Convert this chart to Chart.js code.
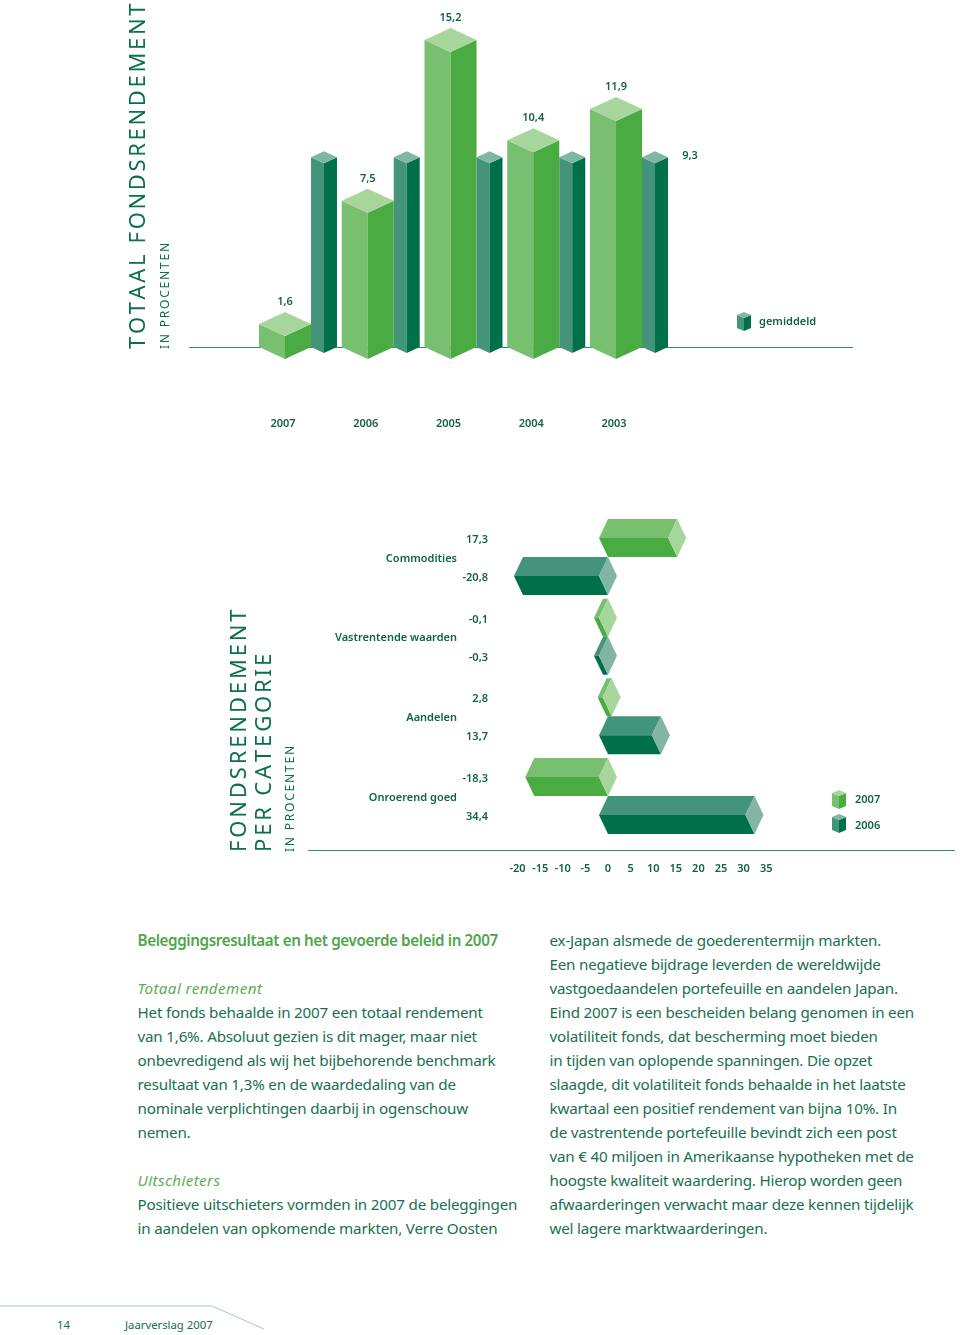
<!DOCTYPE html>
<html lang="nl">
<head>
<meta charset="utf-8">
<title>Jaarverslag 2007</title>
<script src="https://cdn.jsdelivr.net/npm/chart.js@4"></script>
<style>
  html, body { margin: 0; background: #fff; }
  #page { position: relative; width: 960px; height: 1335px; overflow: hidden; font-family: "Noto Sans", sans-serif; color: #17704f; }
  canvas { position: absolute; left: 0; }
  .rule { position: absolute; height: 1px; background: #2f8a70; }
  .side { position: absolute; white-space: nowrap; line-height: 1; transform: rotate(-90deg); transform-origin: 0 0; color: #0b6e4d; font-kerning: none; }
  .big { font-size: 22px; letter-spacing: 2.85px; }
  .small { font-size: 12px; letter-spacing: 1.8px; }
  .col { position: absolute; top: 928px; font-size: 15.2px; letter-spacing: -0.2px; line-height: 24px; white-space: pre; }
  .col b { color: #4ea64b; font-weight: 600; letter-spacing: -0.38px; }
  .col i { color: #5cad55; letter-spacing: 0.4px; }
  .foot { position: absolute; top: 1318px; font-size: 11.3px; line-height: 14px; color: #1b6b50; }
  svg { position: absolute; left: 0; top: 1300px; }
</style>
</head>
<body>
<div id="page">
  <div class="rule" style="left:189px;top:347px;width:664px"></div>
  <div class="rule" style="left:308px;top:850px;width:647px"></div>

  <canvas id="totalChart" width="960" height="440" style="top:0"></canvas>
  <canvas id="categoryChart" width="960" height="390" style="top:500px"></canvas>

  <div class="side big" style="left:125px;top:349px;letter-spacing:2.65px">TOTAAL FONDSRENDEMENT</div>
  <div class="side small" style="left:159px;top:349px">IN PROCENTEN</div>
  <div class="side big" style="left:226px;top:852px">FONDSRENDEMENT</div>
  <div class="side big" style="left:251px;top:852px">PER CATEGORIE</div>
  <div class="side small" style="left:284px;top:852px">IN PROCENTEN</div>

  <div class="col" style="left:137.5px"><b>Beleggingsresultaat en het gevoerde beleid in 2007</b>

<i>Totaal rendement</i>
Het fonds behaalde in 2007 een totaal rendement
van 1,6%. Absoluut gezien is dit mager, maar niet
onbevredigend als wij het bijbehorende benchmark
resultaat van 1,3% en de waardedaling van de
nominale verplichtingen daarbij in ogenschouw
nemen.

<i>Uitschieters</i>
Positieve uitschieters vormden in 2007 de beleggingen
in aandelen van opkomende markten, Verre Oosten</div>

  <div class="col" style="left:549.5px">ex-Japan alsmede de goederentermijn markten.
Een negatieve bijdrage leverden de wereldwijde
vastgoedaandelen portefeuille en aandelen Japan.
Eind 2007 is een bescheiden belang genomen in een
volatiliteit fonds, dat bescherming moet bieden
in tijden van oplopende spanningen. Die opzet
slaagde, dit volatiliteit fonds behaalde in het laatste
kwartaal een positief rendement van bijna 10%. In
de vastrentende portefeuille bevindt zich een post
van € 40 miljoen in Amerikaanse hypotheken met de
hoogste kwaliteit waardering. Hierop worden geen
afwaarderingen verwacht maar deze kennen tijdelijk
wel lagere marktwaarderingen.</div>

  <svg width="300" height="35"><polyline points="0,6 212,6 264,29" fill="none" stroke="#a9cdb0" stroke-width="1"/></svg>
  <div class="foot" style="left:57px">14</div>
  <div class="foot" style="left:125px">Jaarverslag 2007</div>
</div>

<script>
const years = ['2007', '2006', '2005', '2004', '2003'];
const totalReturn = [1.6, 7.5, 15.2, 10.4, 11.9];
const average = [9.3, 9.3, 9.3, 9.3, 9.3];

const categories = ['Commodities', 'Vastrentende waarden', 'Aandelen', 'Onroerend goed'];
const return2007 = [17.3, -0.1, 2.8, -18.3];
const return2006 = [-20.8, -0.3, 13.7, 34.4];
const valueTicks = [-20, -15, -10, -5, 0, 5, 10, 15, 20, 25, 30, 35];

const LIGHT = { a: '#78bf70', b: '#4aab43', cap: '#a7d69d' };
const DARK = { a: '#43947a', b: '#00704a', cap: '#82b6a4' };
const LABEL_SIZE = 11;
const LABEL_FONT = '600 11px "Noto Sans", sans-serif';
const TEXT_COLOR = '#14614a';

Chart.defaults.font.family = '"Noto Sans", sans-serif';
Chart.defaults.animation = false;
Chart.defaults.plugins.legend.display = false;
Chart.defaults.plugins.tooltip.enabled = false;

const comma = v => v.toFixed(1).replace('.', ',');

function poly(ctx, color, pts) {
    ctx.fillStyle = color;
    ctx.beginPath();
    pts.forEach((p, i) => i ? ctx.lineTo(p[0], p[1]) : ctx.moveTo(p[0], p[1]));
    ctx.closePath();
    ctx.fill();
}

// upright block: x is the front edge, top and bottom are the centre of the top and foot
function block(ctx, c, x, top, bottom, w, d) {
    poly(ctx, c.a, [[x - w, top], [x, top + d], [x, bottom + d], [x - w, bottom]]);
    poly(ctx, c.b, [[x + w, top], [x, top + d], [x, bottom + d], [x + w, bottom]]);
    poly(ctx, c.cap, [[x - w, top], [x, top - d], [x + w, top], [x, top + d]]);
}

function label(ctx, text, x, y, align) {
    ctx.font = LABEL_FONT;
    ctx.fillStyle = TEXT_COLOR;
    ctx.textAlign = align || 'center';
    ctx.textBaseline = 'middle';
    ctx.fillText(text, x, y + 1);
}

const upright = {
    id: 'upright',
    afterDatasetsDraw(chart) {
        const ctx = chart.ctx;
        const bottom = chart.scales.y.bottom;
        // dark columns go first, the wide light ones sit in front
        chart.getDatasetMeta(1).data.forEach(el => {
            block(ctx, DARK, el.x + 41, el.y - 6, bottom, 13, 6);
        });
        chart.getDatasetMeta(0).data.forEach((el, i) => {
            block(ctx, LIGHT, el.x + 2, el.y, bottom, 26, 12);
            label(ctx, comma(totalReturn[i]), el.x + 2, el.y - 23);
        });
        const last = chart.getDatasetMeta(1).data[years.length - 1];
        label(ctx, comma(average[years.length - 1]), last.x + 76, last.y - 8);
        // legend
        block(ctx, DARK, 744, 315, 328, 7, 3);
        label(ctx, chart.data.datasets[1].label, 759, 321, 'left');
    }
};

const sideways = {
    id: 'sideways',
    afterDatasetsDraw(chart) {
        const ctx = chart.ctx;
        const values = [return2007, return2006];
        [LIGHT, DARK].forEach((c, s) => {
            chart.getDatasetMeta(s).data.forEach((el, i) => {
                const h = 19, d = 9, y = el.y;
                const end = values[s][i] > 0 ? el.x - d : el.base;
                const start = Math.min(values[s][i] > 0 ? el.base : el.x + d, end - 5);
                poly(ctx, c.a, [[start - d, y], [start, y - h], [end, y - h], [end - d, y]]);
                poly(ctx, c.b, [[start - d, y], [end - d, y], [end, y + h], [start, y + h]]);
                poly(ctx, c.cap, [[end - d, y], [end, y - h], [end + d, y], [end, y + h]]);
                label(ctx, comma(values[s][i]), 488, y + 1, 'right');
            });
        });
        // legend
        block(ctx, LIGHT, 839, 293, 306, 7, 3);
        label(ctx, chart.data.datasets[0].label, 855, 299, 'left');
        block(ctx, DARK, 839, 317, 330, 7, 3);
        label(ctx, chart.data.datasets[1].label, 855, 325, 'left');
    }
};

new Chart(document.getElementById('totalChart'), {
    type: 'bar',
    data: {
        labels: years,
        datasets: [
            { label: 'totaal', data: totalReturn, backgroundColor: 'transparent', grouped: false },
            { label: 'gemiddeld', data: average, backgroundColor: 'transparent', grouped: false }
        ]
    },
    options: {
        responsive: false,
        layout: { autoPadding: false, padding: { left: 241.6, right: 304.6, top: 0, bottom: 0 } },
        scales: {
            x: {
                grid: { display: false, drawTicks: false },
                border: { display: false },
                afterFit: axis => { axis.height = 93; },
                ticks: { color: TEXT_COLOR, font: { size: LABEL_SIZE, weight: '600' }, padding: 70, maxRotation: 0 }
            },
            y: { display: false, min: 0.5, max: 17.12 }
        }
    },
    plugins: [upright]
});

new Chart(document.getElementById('categoryChart'), {
    type: 'bar',
    data: {
        labels: categories,
        datasets: [
            { label: '2007', data: return2007, backgroundColor: 'transparent' },
            { label: '2006', data: return2006, backgroundColor: 'transparent' }
        ]
    },
    options: {
        responsive: false,
        indexAxis: 'y',
        categoryPercentage: 0.955,
        barPercentage: 1,
        layout: { autoPadding: false, padding: { left: 0, right: 193.8, top: 17.2, bottom: 0 } },
        scales: {
            x: {
                min: -25,
                max: 35,
                grid: { display: false, drawTicks: false },
                border: { display: false },
                afterBuildTicks: axis => { axis.ticks = valueTicks.map(v => ({ value: v })); },
                afterFit: axis => { axis.height = 54.2; },
                ticks: { color: TEXT_COLOR, font: { size: LABEL_SIZE, weight: '600' }, padding: 26, maxRotation: 0, autoSkip: false }
            },
            y: {
                grid: { display: false, drawTicks: false },
                border: { display: false },
                // tick padding would otherwise eat into the top of the plot
                afterFit: axis => { axis.width = 495; axis.paddingTop = 0; axis.paddingBottom = 0; },
                ticks: { color: TEXT_COLOR, font: { size: LABEL_SIZE, weight: '600' }, padding: 38, labelOffset: 1.5 }
            }
        }
    },
    plugins: [sideways]
});
</script>
</body>
</html>
